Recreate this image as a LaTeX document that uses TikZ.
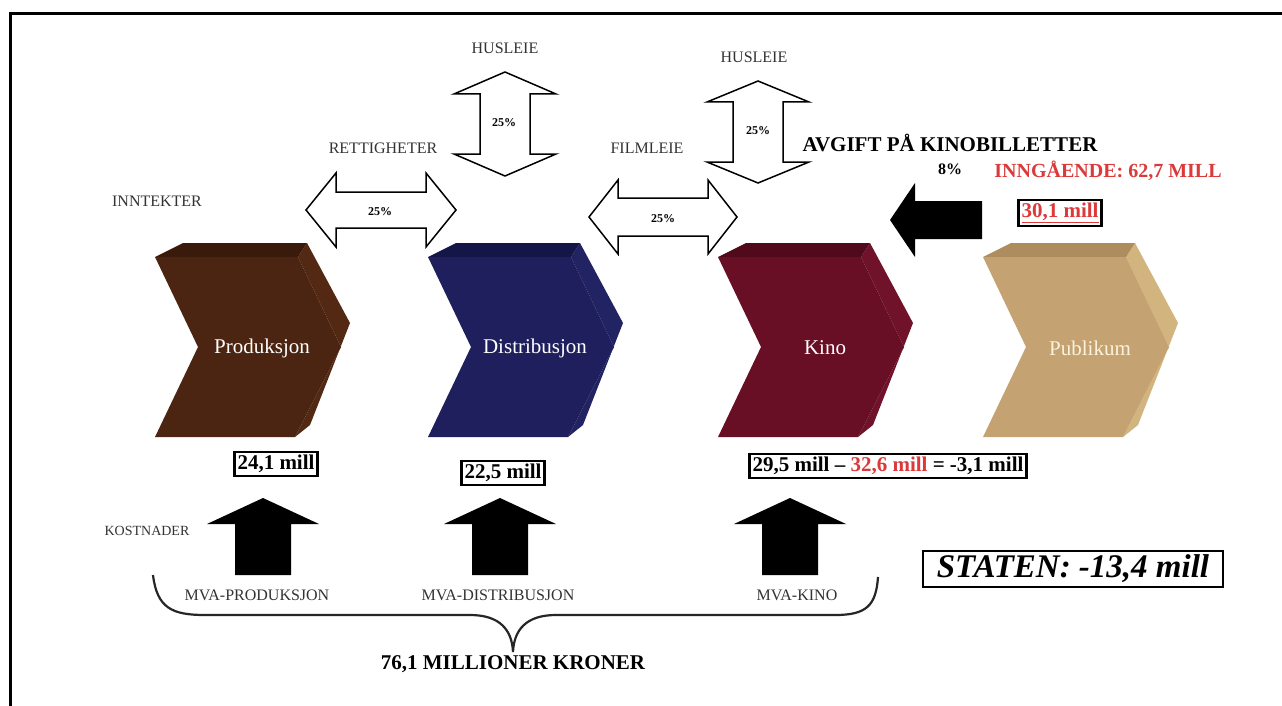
\documentclass[tikz,border=0pt]{standalone}
\usepackage{fontspec}
\setmainfont{Liberation Serif}
\usetikzlibrary{positioning}
\definecolor{prodfront}{HTML}{4B2511}
\definecolor{prodtop}{HTML}{3A1B0B}
\definecolor{prodside}{HTML}{532913}
\definecolor{distfront}{HTML}{1E1F5C}
\definecolor{disttop}{HTML}{151648}
\definecolor{distside}{HTML}{222363}
\definecolor{kinofront}{HTML}{680F26}
\definecolor{kinotop}{HTML}{500A1C}
\definecolor{kinoside}{HTML}{71122B}
\definecolor{pubfront}{HTML}{C4A271}
\definecolor{pubtop}{HTML}{AD8C5E}
\definecolor{pubside}{HTML}{D2B47F}
\definecolor{pubtext}{HTML}{FBF3DC}
\definecolor{myred}{HTML}{DC3A3A}
\tikzset{
  lbl/.style={font=\fontsize{16}{18}\selectfont, text=black!80},
  pct/.style={font=\bfseries\fontsize{12}{14}\selectfont},
  hollow/.style={draw=black, fill=white, line width=1.5pt, line join=miter},
  blockarrow/.style={fill=black},
  stage/.style={font=\fontsize{21}{24}\selectfont},
  valbox/.style={draw, line width=2.5pt, fill=white, inner sep=3pt, font=\bfseries\fontsize{21}{24}\selectfont},
  bracestyle/.style={draw=black!85, line width=2.2pt}
}
\begin{document}
\begin{tikzpicture}[x=1pt,y=-1pt]
\fill[white] (0,0) rectangle (1282,706);
\useasboundingbox (0,0) rectangle (1282,706);
\draw[line width=3pt] (10,706) -- (10,14) -- (1282,14);

% verdikjeden
\foreach \dx/\front/\top/\side/\tc/\name/\txt in {0/prodfront/prodtop/prodside/white/prod/Produksjon, 273/distfront/disttop/distside/white/dist/Distribusjon, 563/kinofront/kinotop/kinoside/white/kino/Kino, 828/pubfront/pubtop/pubside/pubtext/pub/Publikum}{
  \begin{scope}[shift={(\dx,0)}]
    \fill[\side] (298,257) -- (307,243) -- (350,323) -- (310,425) -- (295,437) -- (341,347) -- cycle;
    \fill[\top] (155,257) -- (183,243) -- (307,243) -- (298,257) -- cycle;
    \fill[\front] (155,257) -- (298,257) -- (341,347) -- (295,437) -- (155,437) -- (198,347) -- cycle;
    \node[stage, text=\tc] (\name) at (262,348) {\txt};
  \end{scope}
}

\node[lbl] (inntekter) at (157,201) {INNTEKTER};
\node[lbl] (rettlbl) at (383,148) {RETTIGHETER};
\node[lbl] (hus1lbl) at (505,48) {HUSLEIE};
\node[lbl] (filmlbl) at (647,148) {FILMLEIE};
\node[lbl] (hus2lbl) at (754,57) {HUSLEIE};

\draw[hollow, shift={(381,210)}] (-75,0) -- (-45,-37) -- (-45,-18) -- (45,-18) -- (45,-37) -- (75,0) -- (45,37) -- (45,18) -- (-45,18) -- (-45,37) -- cycle;
\draw[hollow, shift={(663,217)}] (-74,0) -- (-45,-37) -- (-45,-19) -- (45,-19) -- (45,-37) -- (74,0) -- (45,37) -- (45,19) -- (-45,19) -- (-45,37) -- cycle;
\draw[hollow, shift={(505,124)}] (0,-52) -- (51,-30) -- (25,-30) -- (25,30) -- (51,30) -- (0,52) -- (-51,30) -- (-25,30) -- (-25,-30) -- (-51,-30) -- cycle;
\draw[hollow, shift={(758,132)}] (0,-51) -- (51,-30) -- (25,-30) -- (25,30) -- (51,30) -- (0,51) -- (-51,30) -- (-25,30) -- (-25,-30) -- (-51,-30) -- cycle;
\node[pct] (rettpct) at (380,212) {25\%};
\node[pct] (filmpct) at (663,219) {25\%};
\node[pct] (hus1pct) at (504,123) {25\%};
\node[pct] (hus2pct) at (758,131) {25\%};

\node[font=\bfseries\fontsize{21}{24}\selectfont] (avgift) at (950,143) {AVGIFT PÅ KINOBILLETTER};
\node[font=\bfseries\fontsize{16}{18}\selectfont] (avgiftpct) at (950,169) {8\%};
\node[font=\bfseries\fontsize{20}{24}\selectfont, text=myred] (inngaaende) at (1108,171) {INNGÅENDE: 62,7 MILL};
\fill[blockarrow] (890,220) -- (915,183) -- (915,201) -- (982,201) -- (982,239) -- (915,239) -- (915,257) -- cycle;
\node[valbox, text=myred] (pubval) at (1060,213) {\underline{30,1 mill}};

% kostnader
\node[lbl, font=\fontsize{14}{16}\selectfont] (kostnader) at (147,531) {KOSTNADER};
\foreach \ax in {263,500,790}
  \fill[blockarrow] (\ax,498) -- ++(56,26) -- ++(-28,0) -- ++(0,51) -- ++(-56,0) -- ++(0,-51) -- ++(-28,0) -- cycle;
\node[valbox] (prodval) at (276,464) {24,1 mill};
\node[valbox] (distval) at (503,473) {22,5 mill};
\node[valbox] (kinoval) at (888,466) {29,5 mill -- \textcolor{myred}{32,6 mill} = -3,1 mill};
\node[lbl] (mvaprod) at (257,595) {MVA-PRODUKSJON};
\node[lbl] (mvadist) at (498,595) {MVA-DISTRIBUSJON};
\node[lbl] (mvakino) at (797,595) {MVA-KINO};

\coordinate (braceL) at (153,575);
\coordinate (braceTip) at (513,652);
\coordinate (braceR) at (878,577);
\draw[bracestyle] (braceL) .. controls (157,608) and (172,615) .. (205,615) -- (470,615) .. controls (500,615) and (512,630) .. (braceTip) .. controls (514,630) and (526,615) .. (556,615) -- (835,615) .. controls (866,615) and (876,606) .. (braceR);
\node[font=\bfseries\fontsize{21}{24}\selectfont, below=0pt of braceTip] (total) {76,1 MILLIONER KRONER};

\node[valbox, font=\bfseries\itshape\fontsize{33}{36}\selectfont, inner xsep=14pt, inner ysep=4pt] (staten) at (1073,569) {STATEN: -13,4 mill};
\end{tikzpicture}
\end{document}
